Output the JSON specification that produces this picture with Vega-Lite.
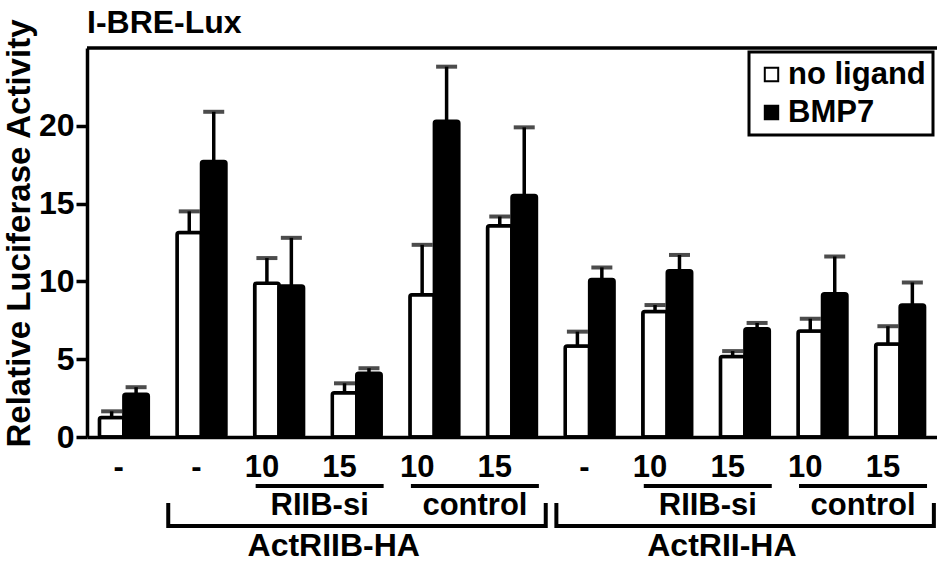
{
  "$schema": "https://vega.github.io/schema/vega-lite/v6.json",
  "width": 850,
  "height": 389,
  "autosize": {"type": "none"},
  "padding": {"left": 87, "top": 48, "right": 0, "bottom": 126},
  "background": "white",
  "config": {
    "font": "Liberation Sans",
    "view": {"stroke": null},
    "axis": {"labelFont": "Liberation Sans", "titleFont": "Liberation Sans", "labelFontWeight": "bold", "titleFontWeight": "bold", "labelColor": "black", "titleColor": "black", "domainColor": "black", "tickColor": "black", "grid": false},
    "text": {"font": "Liberation Sans", "fontWeight": "bold", "fill": "black"}
  },
  "title": {"text": "I-BRE-Lux", "anchor": "start", "frame": "group", "fontSize": 32, "fontWeight": "bold", "color": "black", "font": "Liberation Sans", "baseline": "alphabetic", "offset": -47},
  "datasets": {
    "bars": [
      {"group": "none", "treatment": "no ligand", "mean": 1.25, "upper": 1.65},
      {"group": "none", "treatment": "BMP7", "mean": 2.75, "upper": 3.2},
      {"group": "ActRIIB-HA", "treatment": "no ligand", "mean": 13.15, "upper": 14.5},
      {"group": "ActRIIB-HA", "treatment": "BMP7", "mean": 17.7, "upper": 20.9},
      {"group": "ActRIIB-HA RIIB-si 10", "treatment": "no ligand", "mean": 9.88, "upper": 11.5},
      {"group": "ActRIIB-HA RIIB-si 10", "treatment": "BMP7", "mean": 9.7, "upper": 12.8},
      {"group": "ActRIIB-HA RIIB-si 15", "treatment": "no ligand", "mean": 2.85, "upper": 3.45},
      {"group": "ActRIIB-HA RIIB-si 15", "treatment": "BMP7", "mean": 4.1, "upper": 4.42},
      {"group": "ActRIIB-HA control 10", "treatment": "no ligand", "mean": 9.15, "upper": 12.35},
      {"group": "ActRIIB-HA control 10", "treatment": "BMP7", "mean": 20.3, "upper": 23.8},
      {"group": "ActRIIB-HA control 15", "treatment": "no ligand", "mean": 13.57, "upper": 14.17},
      {"group": "ActRIIB-HA control 15", "treatment": "BMP7", "mean": 15.52, "upper": 19.9},
      {"group": "ActRII-HA", "treatment": "no ligand", "mean": 5.85, "upper": 6.77},
      {"group": "ActRII-HA", "treatment": "BMP7", "mean": 10.12, "upper": 10.9},
      {"group": "ActRII-HA RIIB-si 10", "treatment": "no ligand", "mean": 8.06, "upper": 8.48},
      {"group": "ActRII-HA RIIB-si 10", "treatment": "BMP7", "mean": 10.68, "upper": 11.7},
      {"group": "ActRII-HA RIIB-si 15", "treatment": "no ligand", "mean": 5.17, "upper": 5.52},
      {"group": "ActRII-HA RIIB-si 15", "treatment": "BMP7", "mean": 6.95, "upper": 7.33},
      {"group": "ActRII-HA control 10", "treatment": "no ligand", "mean": 6.82, "upper": 7.6},
      {"group": "ActRII-HA control 10", "treatment": "BMP7", "mean": 9.2, "upper": 11.6},
      {"group": "ActRII-HA control 15", "treatment": "no ligand", "mean": 5.98, "upper": 7.12},
      {"group": "ActRII-HA control 15", "treatment": "BMP7", "mean": 8.48, "upper": 9.93}
    ],
    "subgroups": [
      {"label": "RIIB-si", "start": "ActRIIB-HA RIIB-si 10", "end": "ActRIIB-HA RIIB-si 15"},
      {"label": "control", "start": "ActRIIB-HA control 10", "end": "ActRIIB-HA control 15"},
      {"label": "RIIB-si", "start": "ActRII-HA RIIB-si 10", "end": "ActRII-HA RIIB-si 15"},
      {"label": "control", "start": "ActRII-HA control 10", "end": "ActRII-HA control 15"}
    ],
    "constructs": [
      {"label": "ActRIIB-HA", "start": "ActRIIB-HA", "end": "ActRIIB-HA control 15", "at": "ActRIIB-HA RIIB-si 15"},
      {"label": "ActRII-HA", "start": "ActRII-HA", "end": "ActRII-HA control 15", "at": "ActRII-HA RIIB-si 15"}
    ]
  },
  "layer": [
    {
      "data": {"name": "bars"},
      "mark": {"type": "rule", "color": "black", "strokeWidth": 3.5},
      "encoding": {
        "x": {"field": "group", "type": "nominal"},
        "xOffset": {"field": "treatment", "type": "nominal", "scale": {"domain": ["no ligand", "BMP7"]}},
        "y": {"field": "mean", "type": "quantitative"},
        "y2": {"field": "upper"}
      }
    },
    {
      "data": {"name": "bars"},
      "mark": {"type": "tick", "color": "black", "size": 21, "thickness": 4},
      "encoding": {
        "x": {"field": "group", "type": "nominal"},
        "xOffset": {"field": "treatment", "type": "nominal", "scale": {"domain": ["no ligand", "BMP7"]}},
        "y": {"field": "upper", "type": "quantitative"}
      }
    },
    {
      "data": {"name": "bars"},
      "mark": {"type": "bar", "stroke": "black", "strokeWidth": 3.5, "cornerRadius": 2},
      "encoding": {
        "x": {
          "field": "group", "type": "nominal",
          "scale": {
            "domain": ["none", "ActRIIB-HA", "ActRIIB-HA RIIB-si 10", "ActRIIB-HA RIIB-si 15", "ActRIIB-HA control 10", "ActRIIB-HA control 15", "ActRII-HA", "ActRII-HA RIIB-si 10", "ActRII-HA RIIB-si 15", "ActRII-HA control 10", "ActRII-HA control 15"],
            "paddingInner": 0.37, "paddingOuter": 0.16
          },
          "axis": {
            "title": null, "labelAngle": 0, "ticks": false, "domainWidth": 3.5,
            "labelFontSize": 31, "labelPadding": 30, "labelBaseline": "middle",
            "labelExpr": "slice(datum.label, -3) == ' 10' ? '10' : (slice(datum.label, -3) == ' 15' ? '15' : '-')"
          }
        },
        "xOffset": {"field": "treatment", "type": "nominal", "scale": {"domain": ["no ligand", "BMP7"]}},
        "y": {
          "field": "mean", "type": "quantitative",
          "scale": {"domain": [0, 25], "nice": false},
          "axis": {
            "title": "Relative Luciferase Activity", "titleFontSize": 33, "titlePadding": 2, "titleY": 185,
            "values": [0, 5, 10, 15, 20], "labelFontSize": 32, "labelPadding": 2,
            "tickSize": 11, "tickWidth": 3.5, "domainWidth": 3.5
          }
        },
        "color": {
          "field": "treatment", "type": "nominal",
          "scale": {"domain": ["no ligand", "BMP7"], "range": ["white", "black"]},
          "legend": {
            "title": null, "orient": "top-right", "offset": 4,
            "strokeColor": "black", "fillColor": "white", "padding": 7,
            "labelFontSize": 31, "labelFontWeight": "bold", "labelFont": "Liberation Sans", "labelColor": "black",
            "symbolType": "square", "symbolSize": 180, "symbolStrokeColor": "black", "symbolStrokeWidth": 2,
            "labelOffset": 1, "rowPadding": 6,
            "encode": {"legend": {"update": {"strokeWidth": {"value": 3}}}}
          }
        }
      }
    },
    {
      "data": {"values": [{}]},
      "mark": {"type": "rule", "color": "black", "strokeWidth": 3.5},
      "encoding": {"y": {"datum": 25}}
    },
    {
      "data": {"name": "subgroups"},
      "mark": {"type": "rule", "color": "black", "strokeWidth": 4},
      "encoding": {
        "x": {"field": "start", "type": "nominal", "bandPosition": 0.02},
        "x2": {"field": "end", "bandPosition": 1.05},
        "y": {"datum": -3.15}
      }
    },
    {
      "data": {"name": "subgroups"},
      "mark": {"type": "text", "fontSize": 31, "baseline": "middle", "align": "center"},
      "encoding": {
        "x": {"field": "start", "type": "nominal", "bandPosition": 1.33},
        "y": {"datum": -4.45},
        "text": {"field": "label"}
      }
    },
    {
      "data": {"name": "constructs"},
      "mark": {"type": "rule", "color": "black", "strokeWidth": 4},
      "encoding": {
        "x": {"field": "start", "type": "nominal", "bandPosition": -0.18},
        "x2": {"field": "end", "bandPosition": 1.19},
        "y": {"datum": -5.72}
      }
    },
    {
      "data": {"name": "constructs"},
      "mark": {"type": "rule", "color": "black", "strokeWidth": 4},
      "encoding": {
        "x": {"field": "start", "type": "nominal", "bandPosition": -0.18},
        "y": {"datum": -4.24},
        "y2": {"datum": -5.85}
      }
    },
    {
      "data": {"name": "constructs"},
      "mark": {"type": "rule", "color": "black", "strokeWidth": 4},
      "encoding": {
        "x": {"field": "end", "type": "nominal", "bandPosition": 1.19},
        "y": {"datum": -4.24},
        "y2": {"datum": -5.85}
      }
    },
    {
      "data": {"name": "constructs"},
      "mark": {"type": "text", "fontSize": 32, "baseline": "middle", "align": "center"},
      "encoding": {
        "x": {"field": "at", "type": "nominal", "bandPosition": 0.03},
        "y": {"datum": -7.0},
        "text": {"field": "label"}
      }
    }
  ]
}
